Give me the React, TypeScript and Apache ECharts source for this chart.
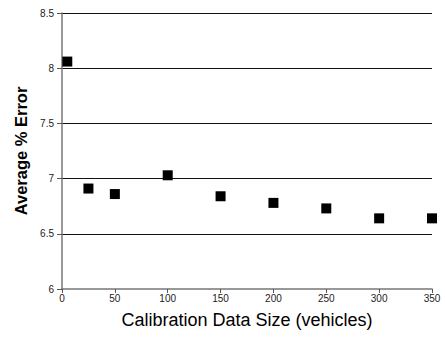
import React, { useEffect, useRef } from "react";
import * as echarts from "echarts";

const sizes = [5, 25, 50, 100, 150, 200, 250, 300, 350];
const errors = [8.06, 6.91, 6.86, 7.03, 6.84, 6.78, 6.73, 6.64, 6.64];

export default function App() {
  const ref = useRef<HTMLDivElement>(null);
  useEffect(() => {
    if (!ref.current) return;
    const chart = echarts.init(ref.current, null, { renderer: "svg" });
    chart.setOption({
      animation: false,
      backgroundColor: "#ffffff",
      grid: { left: 62, right: 13, top: 13, bottom: 48 },
      xAxis: {
        type: "value",
        min: 0,
        max: 350,
        interval: 50,
        name: "Calibration Data Size (vehicles)",
        nameLocation: "middle",
        nameGap: 22,
        nameTextStyle: { fontFamily: "Liberation Sans, Arial", fontSize: 18, color: "#000" },
        axisLine: { show: true, lineStyle: { color: "#777", width: 1.5 } },
        axisTick: { show: true, length: 4, lineStyle: { color: "#555" } },
        axisLabel: { fontFamily: "Liberation Sans, Arial", fontSize: 10, color: "#222", margin: 4 },
        splitLine: { show: false },
      },
      yAxis: {
        type: "value",
        min: 6,
        max: 8.5,
        interval: 0.5,
        name: "Average % Error",
        nameLocation: "middle",
        nameGap: 28,
        nameTextStyle: { fontFamily: "Liberation Sans, Arial", fontSize: 16.5, fontWeight: "bold", color: "#000" },
        axisLine: { show: true, lineStyle: { color: "#777", width: 1.5 } },
        axisTick: { show: true, length: 5, lineStyle: { color: "#555" } },
        axisLabel: { fontFamily: "Liberation Sans, Arial", fontSize: 10, color: "#222", margin: 8 },
        splitLine: { show: true, showMinLine: false, lineStyle: { color: "#111", width: 1.2 } },
      },
      series: [
        {
          type: "scatter",
          symbol: "rect",
          symbolSize: 10,
          itemStyle: { color: "#000", opacity: 1 },
          data: sizes.map((s, i) => [s, errors[i]]),
        },
      ],
    });
    return () => chart.dispose();
  }, []);
  return <div ref={ref} style={{ width: 445, height: 337, position: "absolute", left: 0, top: 0 }} />;
}
